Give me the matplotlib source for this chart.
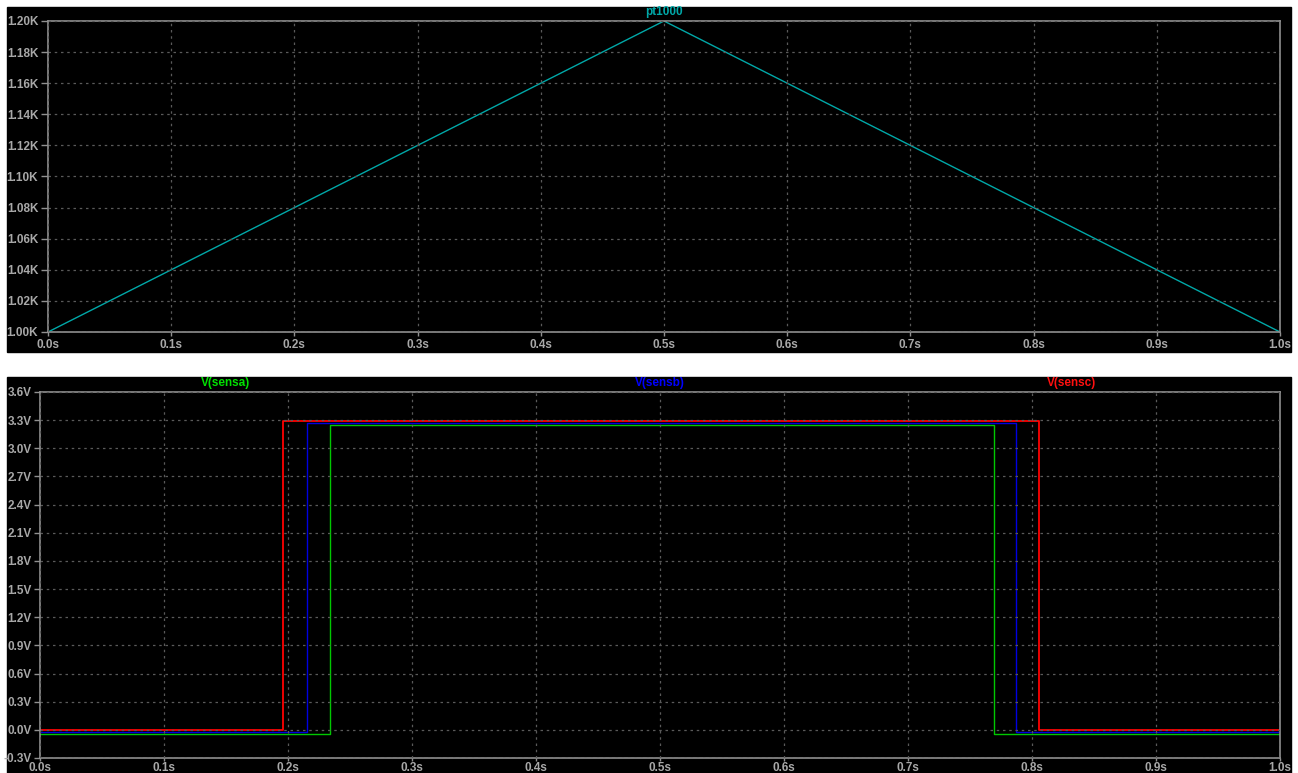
import numpy as np
import matplotlib.pyplot as plt
from matplotlib.patches import Rectangle

# pt1000 resistance sweep (triangle)
t_pt = [0.0, 0.5, 1.0]
r_pt = [1000, 1200, 1000]

# comparator outputs: (time, volts) step waveforms
t_a = [0.0, 0.234, 0.234, 0.769, 0.769, 1.0]
v_a = [-0.04, -0.04, 3.245, 3.245, -0.04, -0.04]
t_b = [0.0, 0.215, 0.215, 0.787, 0.787, 1.0]
v_b = [-0.02, -0.02, 3.27, 3.27, -0.02, -0.02]
t_c = [0.0, 0.196, 0.196, 0.806, 0.806, 1.0]
v_c = [0.0, 0.0, 3.29, 3.29, 0.0, 0.0]

top_yticks = [1000, 1020, 1040, 1060, 1080, 1100, 1120, 1140, 1160, 1180, 1200]
top_ylabels = ["%.2fK" % (v / 1000) for v in top_yticks]
bot_yticks = [-0.3, 0.0, 0.3, 0.6, 0.9, 1.2, 1.5, 1.8, 2.1, 2.4, 2.7, 3.0, 3.3, 3.6]
bot_ylabels = ["%.1fV" % v for v in bot_yticks]
xticks = [0.0, 0.1, 0.2, 0.3, 0.4, 0.5, 0.6, 0.7, 0.8, 0.9, 1.0]
xlabels = ["%.1fs" % v for v in xticks]

W, H = 1298, 773
plt.rcParams['font.family'] = ['Liberation Sans', 'DejaVu Sans']
fig = plt.figure(figsize=(W / 100, H / 100), dpi=100, facecolor="white")

# black panels behind the plots
bg = fig.add_axes([0, 0, 1, 1], zorder=-10)
bg.set_xlim(0, W)
bg.set_ylim(H, 0)
bg.axis("off")
bg.add_patch(Rectangle((7, 7), 1284, 345, color="black"))
bg.add_patch(Rectangle((7, 377), 1284, 400, color="black"))

lab_col = "#a8a8a8"
grid_col = "#5a5a5a"
spine_col = "#909090"


def style(ax):
    ax.set_facecolor("black")
    for s in ax.spines.values():
        s.set_color(spine_col)
        s.set_linewidth(1.2)
    ax.tick_params(length=4, width=1, color=spine_col, colors=lab_col,
                   labelsize=8.5, pad=2)
    ax.tick_params(axis="x", length=3)
    for lbl in ax.get_xticklabels() + ax.get_yticklabels():
        lbl.set_fontweight("bold")
    ax.set_axisbelow(False)
    ax.grid(True, color=grid_col, linestyle=(0, (2, 3)), linewidth=0.9)
    ax.set_xlim(0, 1.0)


ax1 = fig.add_axes([48 / W, 1 - 332 / H, 1232 / W, 311 / H])
ax1.plot(t_pt, r_pt, color="#00a8a8", linewidth=1)
ax1.set_ylim(1000, 1200)
ax1.set_yticks(top_yticks, top_ylabels)
ax1.set_xticks(xticks, xlabels)
style(ax1)
ax1.tick_params(axis="y", length=5)
ax1.annotate("pt1000", xy=(0.5, 1.0), xycoords="axes fraction",
             xytext=(0, 2), textcoords="offset points", ha="center", va="bottom",
             color="#00a8a8", fontsize=8.5, fontweight="bold")

ax2 = fig.add_axes([40 / W, 1 - 758 / H, 1240 / W, 366 / H])
ax2.plot(t_a, v_a, color="#00c800", linewidth=1)
ax2.plot(t_b, v_b, color="#0000e0", linewidth=1)
ax2.plot(t_c, v_c, color="#ff0000", linewidth=1.3)
ax2.set_ylim(-0.3, 3.6)
ax2.set_yticks(bot_yticks, bot_ylabels)
ax2.set_xticks(xticks, xlabels)
style(ax2)
ax2.tick_params(axis="x", length=2, pad=1)
for x, name, col in [(186 / 1240, "V(sensa)", "#00e000"),
                     (620 / 1240, "V(sensb)", "#0000ff"),
                     (1032 / 1240, "V(sensc)", "#ff1010")]:
    ax2.annotate(name, xy=(x, 1.0), xycoords="axes fraction",
                 xytext=(0, 2), textcoords="offset points", ha="center", va="bottom",
                 color=col, fontsize=8.5, fontweight="bold")

fig.savefig("out.png", dpi=100, facecolor="white")
